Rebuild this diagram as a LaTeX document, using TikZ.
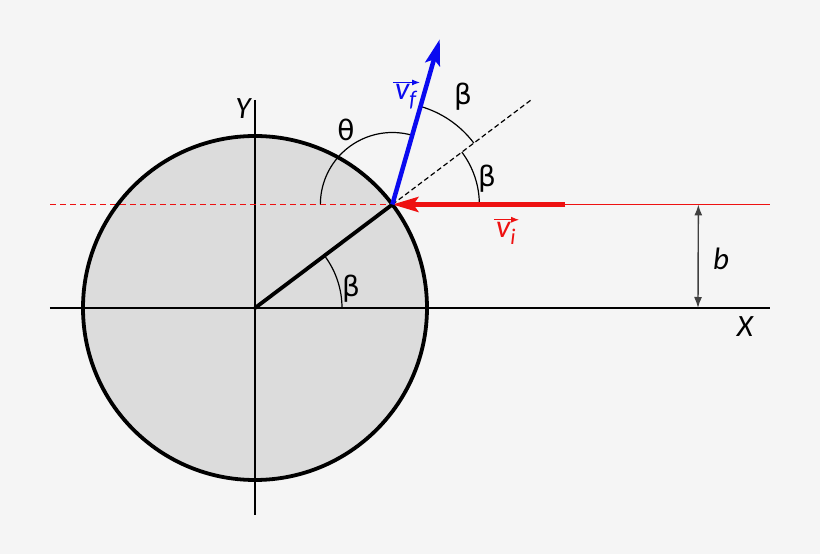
\documentclass[tikz,border=0pt]{standalone}
\usepackage{fontspec}
\setmainfont{Carlito}
\newfontfamily\grk{DejaVu Sans}
\usetikzlibrary{arrows.meta}
\definecolor{bg}{HTML}{F5F5F5}
\definecolor{disk}{HTML}{DCDCDC}
\definecolor{vred}{HTML}{EE1111}
\definecolor{vblue}{HTML}{0A0AF0}
\tikzset{
  axisline/.style={line width=1.4pt},
  greek/.style={font=\grk\fontsize{28}{30}\selectfont},
  axislabel/.style={font=\itshape\fontsize{31}{34}\selectfont},
  veclabel/.style={font=\itshape\fontsize{32}{34}\selectfont, inner sep=0pt},
  bigtip/.style={-{Stealth[length=26pt,width=15pt,inset=5pt]}}
}
\begin{document}
\begin{tikzpicture}[x=1pt,y=1pt]
    \fill[bg] (-255,-246) rectangle (565,308);
    \useasboundingbox (-255,-246) rectangle (565,308);
    \coordinate (O) at (0,0);
    \coordinate (P) at (37:172pt);
    \coordinate (I) at ([xshift=173pt]P);
    \coordinate (R) at ([xshift=378pt]P);
    \coordinate (L) at ([xshift=-342pt]P);
    \coordinate (N) at ([shift={(37:173pt)}]P);
    \coordinate (F) at ([shift={(74:172pt)}]P);
    \coordinate (Xl) at (-205,0);
    \coordinate (Xr) at (515,0);
    \coordinate (Yt) at (0,208);
    \coordinate (Yb) at (0,-207);
    \coordinate (B1) at ([xshift=306pt]P);
    \coordinate (B0) at (443,0);
    \fill[disk] (O) circle (172pt);
    \draw[axisline] (Xl) -- (Xr);
    \draw[axisline] (Yt) -- (Yb);
    \draw[vred, line width=1.4pt, dash pattern=on 6pt off 4pt] (L) -- (P);
    \draw[line width=3.8pt] (O) circle (172pt);
    \draw[line width=3.8pt, line cap=round] (O) -- (P);
    \draw[line width=1.2pt] ([shift={(0:87pt)}]O) arc[start angle=0, end angle=37, radius=87pt];
    \draw[line width=1.2pt] ([shift={(0:87pt)}]P) arc[start angle=0, end angle=37, radius=87pt];
    \draw[line width=1.2pt] ([shift={(37:102pt)}]P) arc[start angle=37, end angle=74, radius=102pt];
    \draw[line width=1.2pt] ([shift={(74:72pt)}]P) arc[start angle=74, end angle=180, radius=72pt];
    \draw[line width=1.2pt, dash pattern=on 5pt off 3pt] (P) -- (N);
    \draw[vred, line width=1.4pt] (I) -- (R);
    \draw[vred, line width=4.5pt, bigtip] (I) -- (P);
    \draw[vblue, line width=4.5pt, bigtip] (P) -- (F);
    \draw[black!75, line width=1.4pt, {Latex[length=11pt,width=8pt]}-{Latex[length=11pt,width=8pt]}] (B1) -- (B0);
    \node[axislabel] (ylab) at (-12,199) {Y};
    \node[axislabel] (xlab) at (490,-19) {X};
    \node[axislabel] (blab) at (466,49) {b};
    \node[greek] (theta) at (91,178) {θ};
    \node[greek] (beta1) at (96,19) {β};
    \node[greek] (beta2) at (232,129) {β};
    \node[greek] (beta3) at (208,211) {β};
    \node[veclabel, vblue] (vf) at (151,211) {v\textsubscript{f}};
    \node[veclabel, vred] (vi) at (251,75) {v\textsubscript{i}};
    \draw[vblue, line width=1pt, -{Latex[length=8pt,width=6pt]}] ([yshift=2pt,xshift=-2pt]vf.north west) -- ([yshift=2pt,xshift=3pt]vf.north east);
    \draw[vred, line width=1pt, -{Latex[length=8pt,width=6pt]}] ([yshift=2pt,xshift=-2pt]vi.north west) -- ([yshift=2pt,xshift=3pt]vi.north east);
\end{tikzpicture}
\end{document}
